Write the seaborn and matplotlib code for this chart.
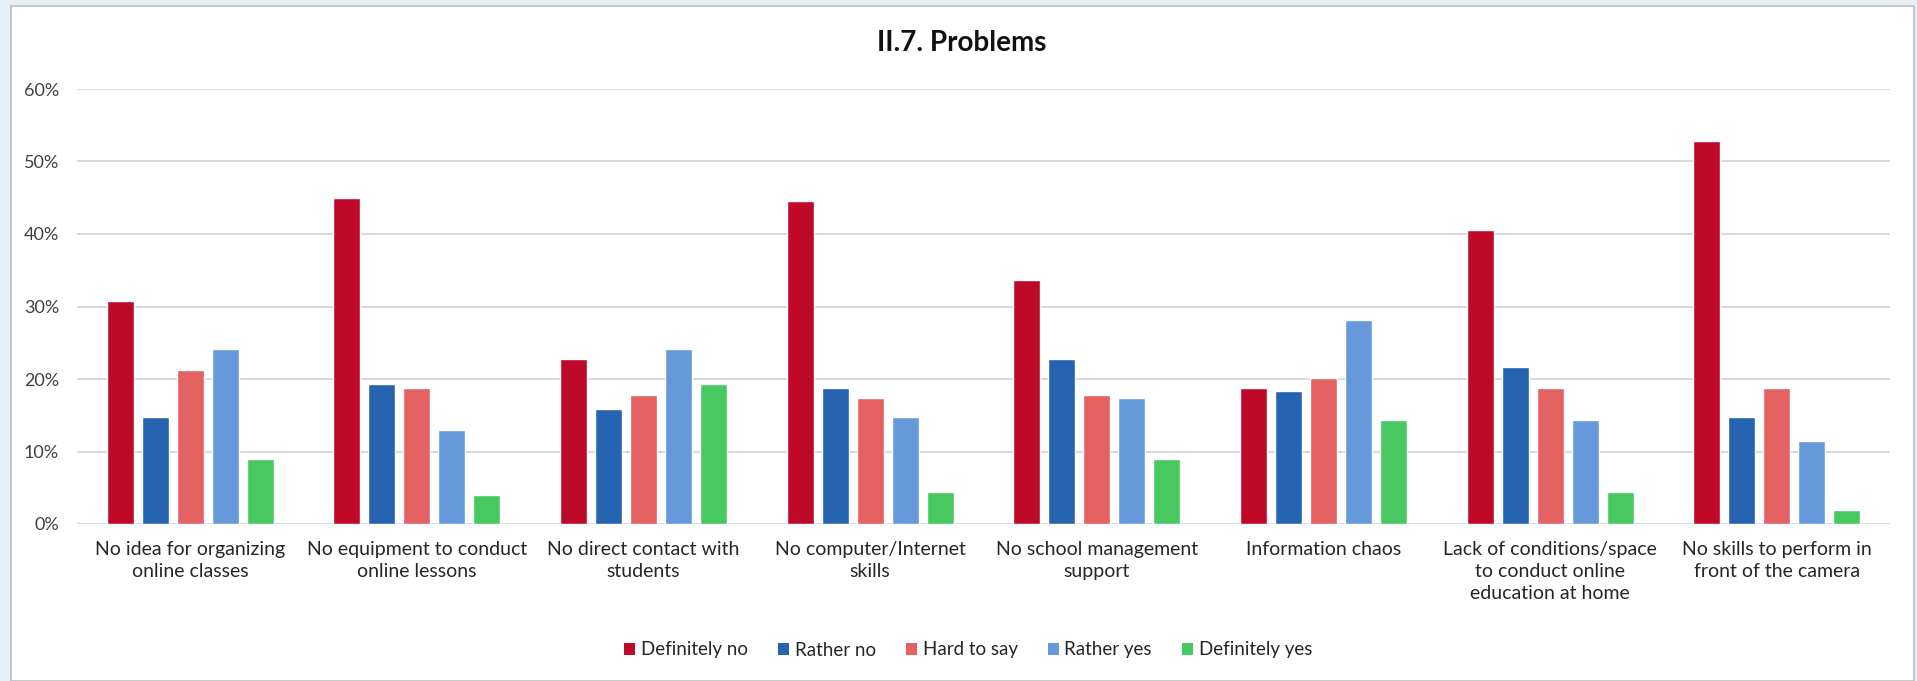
import matplotlib
matplotlib.use("Agg")
import matplotlib.pyplot as plt
from matplotlib.patches import Rectangle
from matplotlib.ticker import PercentFormatter, MultipleLocator
import pandas as pd
import seaborn as sns

# Survey data: share of answers per problem
problems = [
    "No idea for organizing\nonline classes",
    "No equipment to conduct\nonline lessons",
    "No direct contact with\nstudents",
    "No computer/Internet\nskills",
    "No school management\nsupport",
    "Information chaos",
    "Lack of conditions/space\nto conduct online\neducation at home",
    "No skills to perform in\nfront of the camera",
]
answers = ["Definitely no", "Rather no", "Hard to say", "Rather yes", "Definitely yes"]

definitely_no = [30.7, 44.9, 22.7, 44.5, 33.6, 18.7, 40.6, 52.8]
rather_no = [14.8, 19.3, 15.8, 18.7, 22.7, 18.3, 21.7, 14.8]
hard_to_say = [21.2, 18.7, 17.8, 17.4, 17.8, 20.2, 18.7, 18.7]
rather_yes = [24.2, 12.9, 24.2, 14.8, 17.4, 28.2, 14.4, 11.4]
definitely_yes = [9.0, 4.0, 19.3, 4.4, 9.0, 14.4, 4.4, 2.0]

colors = ["#BE0A28", "#2663B0", "#E46262", "#6699DB", "#48C860"]

series = [definitely_no, rather_no, hard_to_say, rather_yes, definitely_yes]
rows = []
for ans, vals in zip(answers, series):
    for prob, v in zip(problems, vals):
        rows.append({"problem": prob, "answer": ans, "value": v / 100.0})
df = pd.DataFrame(rows)

sns.set_theme(style="white")
plt.rcParams["font.family"] = ["Lato", "DejaVu Sans"]

W, H = 1917, 681
fig = plt.figure(figsize=(W / 100, H / 100), dpi=100)
fig.patch.set_facecolor("#E6EEF8")

# white chart panel with a thin grey frame
panel = Rectangle((11 / W, 0), (1914 - 11) / W, (H - 6) / H,
                  transform=fig.transFigure, facecolor="white",
                  edgecolor="#BFBFBF", linewidth=1.2, zorder=-10)
fig.patches.append(panel)

ax = fig.add_axes([77 / W, 1 - 524 / H, (1890 - 77) / W, (524 - 89) / H])
ax.set_zorder(2)
ax.set_facecolor("none")

sns.barplot(data=df, x="problem", y="value", hue="answer",
            order=problems, hue_order=answers, palette=colors,
            width=0.772, gap=0.23, saturation=1, errorbar=None,
            legend=False, ax=ax, zorder=3)

ax.set_ylim(0, 0.6)
ax.set_xlim(-0.5, len(problems) - 0.5)
ax.yaxis.set_major_locator(MultipleLocator(0.1))
ax.yaxis.set_major_formatter(PercentFormatter(1.0, decimals=0))
ax.grid(axis="y", color="#D9D9D9", linewidth=1.4, zorder=0)
ax.set_axisbelow(True)
for s in ["top", "right", "left", "bottom"]:
    ax.spines[s].set_visible(False)
ax.set_xlabel("")
ax.set_ylabel("")
ax.tick_params(axis="y", length=0, pad=13, labelsize=13, labelcolor="#404040")
ax.tick_params(axis="x", length=0, pad=12, labelsize=14, labelcolor="#262626")
for lbl in ax.get_xticklabels():
    lbl.set_linespacing(1.38)
    lbl.set_verticalalignment("top")

fig.text(962 / W, 1 - 43 / H, "II.7. Problems", ha="center", va="center",
         fontsize=20, fontweight="bold", color="#111111")

handles = [Rectangle((0, 0), 1, 1, facecolor=c, edgecolor="none") for c in colors]
fig.legend(handles, answers, loc="center", ncol=5,
           bbox_to_anchor=(968 / W, 1 - 650 / H), frameon=False,
           fontsize=13.5, handlelength=0.6, handleheight=0.6,
           handletextpad=0.3, columnspacing=1.6, labelcolor="#262626")

fig.savefig("out.png", dpi=100, facecolor=fig.get_facecolor())
